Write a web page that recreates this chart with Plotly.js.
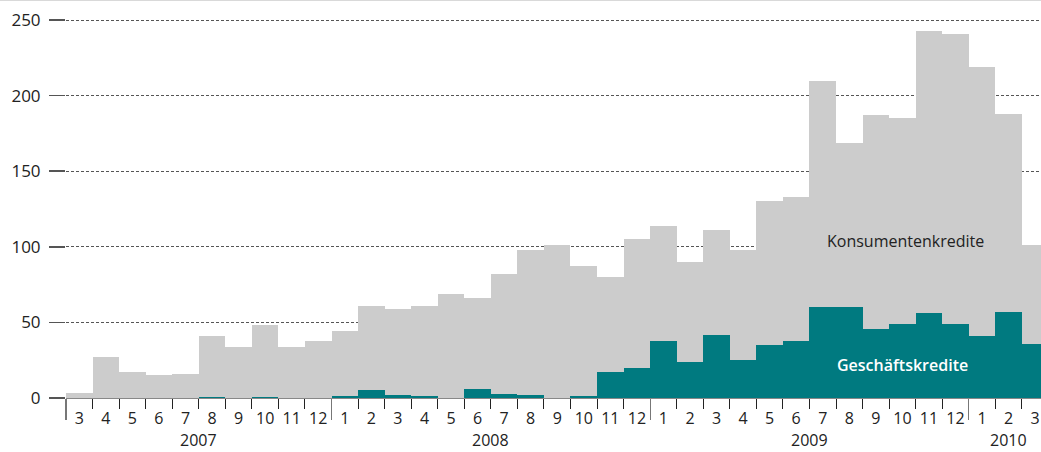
<!DOCTYPE html>
<html>
<head>
<meta charset="utf-8">
<script src="https://cdn.plot.ly/plotly-3.0.1.min.js"></script>
<style>html,body{margin:0;padding:0;background:#fff;}#chart{width:1041px;height:452px;}</style>
</head>
<body>
<div id="chart"></div>
<script>
// Months from 2007-03 to 2010-03
const monthLabels = ["3","4","5","6","7","8","9","10","11","12",
  "1","2","3","4","5","6","7","8","9","10","11","12",
  "1","2","3","4","5","6","7","8","9","10","11","12",
  "1","2","3"];
const konsumentenkredite = [3,27,17,15,16,41,34,48,34,38,
  44,61,59,61,68.5,66,82,98,101,87,80,105,
  114,90,111,98,130,133,209.5,168.5,187,185,243,241,
  219,188,101];
const geschaeftskredite = [0,0,0,0,0,0.7,0,0.7,0,0,
  1,5,2,1,0,6,2.5,2,0,1.5,17.5,20,
  38,24,41.5,25,35,38,60,60,45.5,49,56,49,
  41,57,35.5];
const yearLabels = ["2007","2008","2009","2010"];
const yearStartIdx = [0,10,22,34];   // index of first month of each year
const yearEndIdx = [9,21,33,36];     // index of last month of each year
const seriesNames = ["Konsumentenkredite","Geschäftskredite"];

const idx = monthLabels.map((_, i) => i);
const FONT = "Open Sans, Liberation Sans, sans-serif";

const traces = [
  {type:"bar", x: idx, y: konsumentenkredite, width: 1, name: seriesNames[0],
   marker:{color:"#cccccc", line:{width:0}}, hoverinfo:"y", xaxis:"x", yaxis:"y"},
  {type:"bar", x: idx, y: geschaeftskredite, width: 1, name: seriesNames[1],
   marker:{color:"#007a80", line:{width:0}}, hoverinfo:"y", xaxis:"x2", yaxis:"y"}
];

const xr = [-0.5, 36.22];
const yearBounds = yearStartIdx.map(i => i - 0.5);

const annotations = yearLabels.map((t, k) => ({
  text: t, xref:"x", yref:"paper",
  x: (yearStartIdx[k] + yearEndIdx[k]) / 2, y: -0.1355,
  xanchor:"center", yanchor:"bottom", showarrow:false, borderpad:0,
  font:{family:FONT, size:16, color:"#222"}
}));
annotations.push({
  text: seriesNames[0], xref:"x", yref:"y", x: 31.1, y: 103.6,
  showarrow:false, xanchor:"center", yanchor:"middle",
  font:{family:FONT, size:16, color:"#222"}
});
annotations.push({
  text: seriesNames[1], xref:"x", yref:"y", x: 31.0, y: 21.6,
  showarrow:false, xanchor:"center", yanchor:"middle",
  font:{family:FONT, size:16, color:"#ffffff", weight:600}
});

const layout = {
  width:1041, height:452,
  margin:{l:66, r:0, t:1, b:54, pad:0},
  paper_bgcolor:"#fff", plot_bgcolor:"#fff",
  showlegend:false, barmode:"overlay", bargap:0,
  font:{family:FONT, size:17, color:"#222"},
  xaxis:{
    range: xr, tickmode:"array", tickvals: idx, ticktext: monthLabels,
    ticks:"", showgrid:false, zeroline:false,
    showline:true, linecolor:"#888", linewidth:1,
    ticklabelstandoff: 6,
    tickfont:{family:FONT, size:16, color:"#222"},
    minor:{ticks:"outside", ticklen:10, tickcolor:"#222", tickwidth:1, tick0:0.5, dtick:1, showgrid:false}
  },
  xaxis2:{
    range: xr, overlaying:"x", anchor:"y", side:"bottom",
    tickmode:"array", tickvals: yearBounds, ticks:"outside", ticklen:21,
    tickcolor:"#777", tickwidth:1.2, showticklabels:false,
    showgrid:false, zeroline:false, showline:false
  },
  yaxis:{
    range:[0, 262.6], tickvals:[0,50,100,150,200,250],
    ticks:"outside", ticklen:16, tickcolor:"#555", tickwidth:1.5,
    showgrid:true, gridcolor:"#555", gridwidth:1, griddash:"3px,2px",
    zeroline:false, showline:false, ticklabelstandoff:5,
    tickfont:{family:FONT, size:17, color:"#222"}
  },
  shapes:[{type:"line", xref:"paper", yref:"paper", x0:-66/975, x1:1, y0:1.0025, y1:1.0025,
    line:{color:"#cccccc", width:1.5}}],
  annotations: annotations
};

Plotly.newPlot("chart", traces, layout, {staticPlot:true, displayModeBar:false});
</script>
</body>
</html>
